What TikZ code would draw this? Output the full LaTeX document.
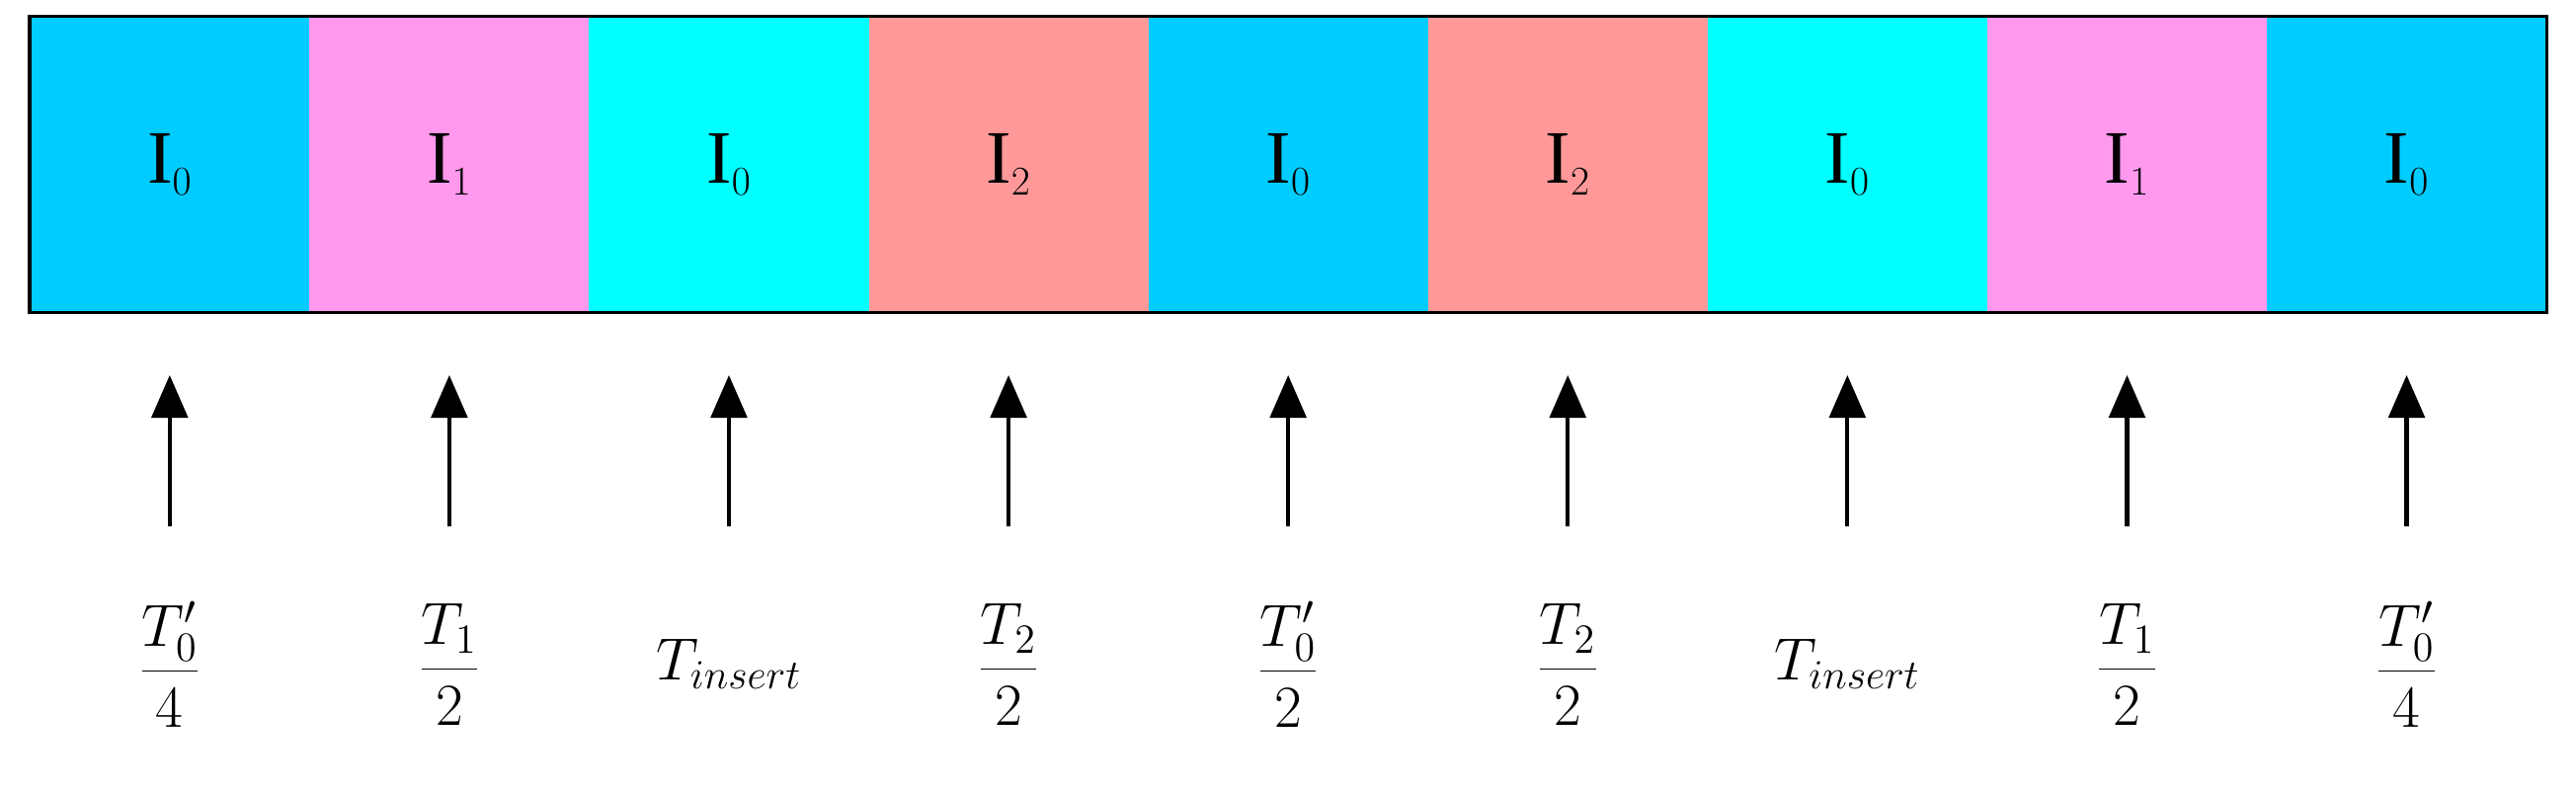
\documentclass[tikz,border=0pt]{standalone}
\usepackage{fontspec}
\setmainfont{Liberation Serif}
\usetikzlibrary{arrows.meta,calc}
\definecolor{cA}{HTML}{00CCFF}
\definecolor{cB}{HTML}{FF99EE}
\definecolor{cC}{HTML}{00FFFF}
\definecolor{cD}{HTML}{FF9999}
\tikzset{cell/.style={minimum width=170.2pt,minimum height=180pt,inner sep=0pt,anchor=north west,font=\fontsize{46}{52}\selectfont},
arr/.style={-{Triangle[length=26pt,width=22pt]},line width=2.5pt},
lab/.style={font=\fontsize{20}{24}\selectfont,scale=1.75}}
\begin{document}
\begin{tikzpicture}[x=1pt,y=1pt]
\useasboundingbox (0,0) rectangle (1568,-482);
\foreach \c/\t [count=\i from 0] in {cA/0,cB/1,cC/0,cD/2,cA/0,cD/2,cC/0,cB/1,cA/0}{
  \node[cell,fill=\c] (c\i) at ({18+170.2*\i},-10) {I$_{\t}$};
}
\draw[line width=2pt] (c0.north west) rectangle (c8.south east);
\foreach \f [count=\i from 0] in {{\frac{T_0'}{4}},{\frac{T_1}{2}},{T_{insert}},{\frac{T_2}{2}},{\frac{T_0'}{2}},{\frac{T_2}{2}},{T_{insert}},{\frac{T_1}{2}},{\frac{T_0'}{4}}}{
  \coordinate (b\i) at ($(c\i.south)+(0,-130)$);
  \coordinate (t\i) at ($(c\i.south)+(0,-38)$);
  \draw[arr] (b\i) -- (t\i);
  \node[lab] (l\i) at ($(c\i.south)+(0,-214)$) {$\displaystyle\f$};
}
\end{tikzpicture}
\end{document}
